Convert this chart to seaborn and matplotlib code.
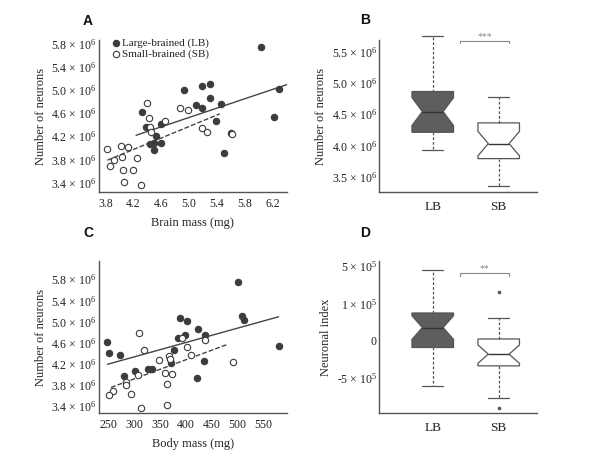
import numpy as np
import pandas as pd
import matplotlib
matplotlib.use("Agg")
import matplotlib.pyplot as plt
import seaborn as sns
from matplotlib.ticker import AutoMinorLocator

# one entry per species: neurons (x1e6), brain mass (mg), body mass (mg)
lb_neurons = [5.74, 5.10, 5.06, 5.02, 5.00, 4.86, 4.75, 4.74, 4.69, 4.62, 4.54,
              4.46, 4.41, 4.36, 4.26, 4.21, 4.09, 4.09, 4.06, 3.97, 3.92]
lb_brain = [6.03, 5.30, 5.18, 6.29, 4.93, 5.30, 5.46, 5.10, 5.18, 4.33, 6.21,
            5.39, 4.60, 4.38, 5.60, 4.52, 4.49, 4.60, 4.44, 4.50, 5.50]
lb_body = [502, 508, 389, 513, 402, 423, 437, 398, 384, 248, 580,
           378, 251, 273, 435, 371, 334, 326, 302, 280, 422]

sb_neurons = [4.78, 4.69, 4.65, 4.51, 4.46, 4.36, 4.35, 4.28, 4.27, 4.24, 4.03,
              4.01, 3.98, 3.85, 3.82, 3.79, 3.69, 3.62, 3.61, 3.41, 3.36]
sb_brain = [4.40, 4.87, 4.99, 4.42, 4.65, 4.44, 5.18, 5.25, 4.45, 5.61, 4.03,
            4.13, 3.83, 4.04, 4.26, 3.93, 3.87, 4.05, 4.19, 4.06, 4.31]
sb_body = [309, 392, 438, 402, 319, 410, 368, 369, 348, 492, 360,
           373, 308, 285, 363, 284, 258, 293, 252, 363, 313]

# neuronal index (x1e5), estimated from panel D
lb_index = [-6.0, -3.9, -2.6, -1.9, -1.3, -0.89, -0.2, 0.5, 1.0, 1.4, 1.78,
            2.1, 2.6, 3.0, 3.4, 3.73, 4.2, 4.9, 5.6, 6.9, 9.45]
sb_index = [-9.0, -7.7, -5.6, -4.6, -3.9, -3.35, -2.9, -2.5, -2.2, -2.0, -1.78,
            -1.4, -1.0, -0.6, -0.2, 0.25, 0.8, 1.5, 2.2, 3.09, 6.6]

# x extent of the fitted lines as drawn in the figure
fit_brain = {"LB": (4.24, 6.40), "SB": (3.83, 5.44)}
fit_body = {"LB": (248, 580), "SB": (255, 479)}

neuron_ticks = [3.4, 3.8, 4.2, 4.6, 5.0, 5.4, 5.8]
neuron_labels = ["3.4 × 10$^6$", "3.8 × 10$^6$", "4.2 × 10$^6$", "4.6 × 10$^6$",
                 "5.0 × 10$^6$", "5.4 × 10$^6$", "5.8 × 10$^6$"]
brain_ticks = [3.8, 4.2, 4.6, 5.0, 5.4, 5.8, 6.2]
body_ticks = [250, 300, 350, 400, 450, 500, 550]
box_ticks = [3.5, 4.0, 4.5, 5.0, 5.5]
box_labels = ["3.5 × 10$^6$", "4.0 × 10$^6$", "4.5 × 10$^6$", "5.0 × 10$^6$", "5.5 × 10$^6$"]
index_ticks = [-5e5, 0, 5e5, 1e6]
index_labels = ["-5 × 10$^5$", "0", "1 × 10$^5$", "5 × 10$^5$"]

sns.set_style("white")
plt.rcParams["font.family"] = ["Liberation Serif", "DejaVu Serif"]
plt.rcParams["mathtext.fontset"] = "custom"
plt.rcParams["mathtext.rm"] = "Liberation Serif"
plt.rcParams["mathtext.it"] = "Liberation Serif:italic"
plt.rcParams["text.color"] = "#222222"

df = pd.DataFrame({
    "group": ["LB"] * len(lb_neurons) + ["SB"] * len(sb_neurons),
    "neurons": lb_neurons + sb_neurons,
    "brain": lb_brain + sb_brain,
    "body": lb_body + sb_body,
    "index": [v * 1e5 for v in lb_index + sb_index],
})

dark = "#3c3c3c"
edge = "#555555"
fig = plt.figure(figsize=(5.95, 4.51), dpi=100)
axA = fig.add_axes([0.166, 0.5736, 0.316, 0.3375])
axB = fig.add_axes([0.6375, 0.5736, 0.2645, 0.3375])
axC = fig.add_axes([0.166, 0.0836, 0.316, 0.3375])
axD = fig.add_axes([0.6375, 0.0836, 0.2645, 0.3375])


def style(ax):
    sns.despine(ax=ax)
    for s in ["left", "bottom"]:
        ax.spines[s].set_color(edge)
        ax.spines[s].set_linewidth(1.0)
    ax.tick_params(which="both", direction="in", color=edge, labelsize=8.5,
                   labelcolor="#222222")
    ax.tick_params(which="major", length=3, width=0.8)
    ax.tick_params(which="minor", length=1.8, width=0.8)
    ax.tick_params(axis="y", pad=2)
    ax.tick_params(axis="x", pad=4)


def scatter_panel(ax, xcol, fits, xticks, xlabel, xlim, ylim):
    for g, face, ls in [("LB", dark, "-"), ("SB", "white", (0, (3.5, 1.5)))]:
        sub = df[df["group"] == g]
        sns.scatterplot(x=sub[xcol], y=sub["neurons"], ax=ax, s=21,
                        color=face, edgecolor=dark, linewidth=0.8, zorder=3,
                        label="Large-brained (LB)" if g == "LB" else "Small-brained (SB)")
        kk, bb = np.polyfit(sub[xcol], sub["neurons"], 1)
        xs = np.array(fits[g])
        ax.plot(xs, kk * xs + bb, color="#444444", lw=1.0, ls=ls, zorder=2)
    ax.set_xlim(*xlim)
    ax.set_ylim(*ylim)
    ax.set_xticks(xticks)
    ax.set_yticks(neuron_ticks, neuron_labels)
    ax.xaxis.set_minor_locator(AutoMinorLocator(2))
    ax.yaxis.set_minor_locator(AutoMinorLocator(2))
    ax.set_xlabel(xlabel, fontsize=9, labelpad=5)
    ax.set_ylabel("Number of neurons", fontsize=9, labelpad=3)
    style(ax)


def box_panel(ax, col, ylim, yticks, ylabels, ylabel, bracket, stars):
    sns.boxplot(data=df, x="group", y=col, hue="group", order=["LB", "SB"],
                palette={"LB": "#5e5e5e", "SB": "white"}, saturation=1,
                notch=True, width=0.63, linecolor=edge, linewidth=0.9,
                whiskerprops={"linestyle": (0, (2.2, 1.6))},
                medianprops={"color": "#333333", "linewidth": 1.0},
                flierprops={"marker": "o", "markerfacecolor": edge,
                            "markeredgecolor": edge},
                fliersize=1.6, legend=False, ax=ax)
    for art in ax.lines + ax.patches:
        art.set_clip_on(False)
    ax.set_xlim(-0.81, 1.576)
    ax.set_ylim(*ylim)
    ax.set_yticks(yticks, ylabels)
    ax.set_xlabel("")
    ax.set_ylabel(ylabel, fontsize=9, labelpad=3)
    style(ax)
    ax.tick_params(axis="x", length=0, labelsize=9.5, pad=6)
    y0, y1 = bracket
    ax.plot([0.41, 0.41, 1.16, 1.16], [y0, y1, y1, y0], color="#888888",
            lw=0.8, clip_on=False)
    ax.text(0.785, y1, stars, ha="center", va="bottom", fontsize=7,
            color="#888888")


scatter_panel(axA, "brain", fit_brain, brain_ticks, "Brain mass (mg)",
              (3.705, 6.40), (3.234, 5.858))
leg = axA.legend(loc="upper left", bbox_to_anchor=(0.04, 1.04), frameon=False,
                 fontsize=8, handletextpad=0.05, labelspacing=0.05,
                 borderaxespad=0, handlelength=1.0)
scatter_panel(axC, "body", fit_body, body_ticks, "Body mass (mg)",
              (231.3, 595.8), (3.259, 6.145))
axC.get_legend().remove()

box_panel(axB, "neurons", (3.253, 5.68), box_ticks, box_labels,
          "Number of neurons", (5.63, 5.67), "***")
box_panel(axD, "index", (-9.7e5, 10.68e5), index_ticks, index_labels,
          "Neuronal index", (8.7e5, 9.06e5), "**")

for x, y, t in [(88, 21, "A"), (365, 20, "B"), (88, 233, "C"), (365, 233, "D")]:
    fig.text(x / 595, 1 - y / 451, t, ha="center", va="center", fontsize=10,
             fontweight="bold", family="Liberation Sans", color="#111111")

fig.savefig("out.png", dpi=100)
plt.close(fig)
